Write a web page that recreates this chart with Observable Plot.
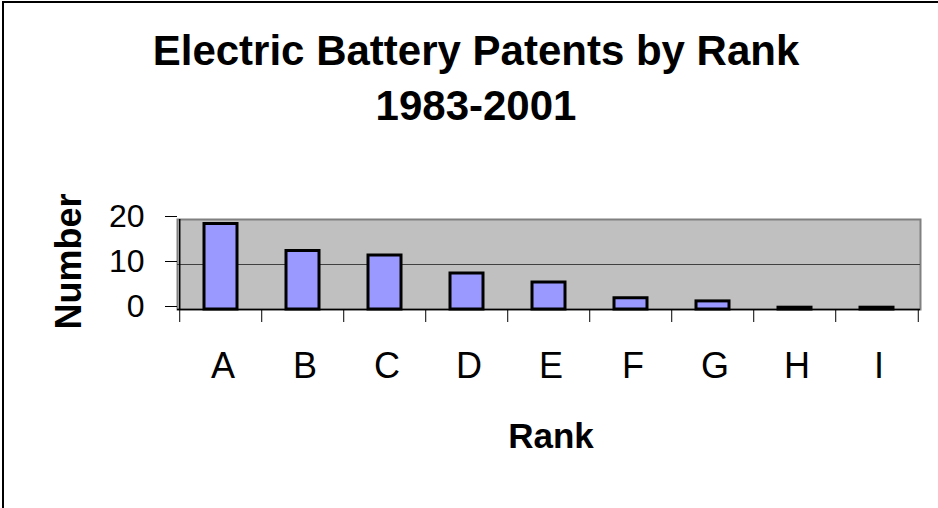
<!DOCTYPE html>
<html>
<head>
<meta charset="utf-8">
<script src="https://cdn.jsdelivr.net/npm/d3@7"></script>
<script src="https://cdn.jsdelivr.net/npm/@observablehq/plot@0.6"></script>
<style>
  html, body { margin: 0; padding: 0; background: #fff; }
  #wrap { position: relative; width: 938px; height: 508px; overflow: hidden; font-family: "Liberation Sans", Arial, sans-serif; }
  #border { position: absolute; left: 2px; top: 1px; width: 960px; height: 540px; border-left: 2px solid #000; border-top: 2px solid #000; box-sizing: border-box; pointer-events: none; }
  #title { position: absolute; left: 7px; top: 23px; width: 938px; text-align: center; font-size: 42px; font-weight: bold; line-height: 55px; color: #000; }
  #chart { position: absolute; left: 0; top: 0; }
</style>
</head>
<body>
<div id="wrap">
  <div id="chart"></div>
  <div id="title"></div>
  <div id="border"></div>
</div>
<script>
const titleLines = ["Electric Battery Patents by Rank", "1983-2001"];
const categories = ["A", "B", "C", "D", "E", "F", "G", "H", "I"];
const values = [19, 13, 12, 8, 6, 2.5, 1.8, 0.4, 0.4];
const yTicks = [0, 10, 20];
const xLabel = "Rank";
const yLabel = "Number";

const data = categories.map((c, i) => ({rank: c, value: values[i]}));

const W = 938, H = 508;
const mL = 177, mR = 18, mT = 219, mB = 199;
const step = (W - mL - mR) / categories.length;

document.getElementById("title").innerHTML = titleLines.map(t => `<div>${t}</div>`).join("");

const chart = Plot.plot({
  width: W,
  height: H,
  marginLeft: mL,
  marginRight: mR,
  marginTop: mT,
  marginBottom: mB,
  style: {fontFamily: "'Liberation Sans', Arial, sans-serif", background: "transparent", color: "#000", overflow: "visible"},
  x: {type: "band", domain: categories, paddingInner: 0.6, paddingOuter: 0.3, label: null},
  y: {domain: [0, 20], ticks: yTicks, label: null},
  marks: [
    Plot.frame({fill: "#c0c0c0", stroke: "#808080", strokeWidth: 2}),
    Plot.ruleY([10], {stroke: "#404040", strokeWidth: 1}),
    // left axis line
    Plot.ruleX([categories[0]], {dx: -step / 2, stroke: "#000", strokeWidth: 1.5}),
    // category boundary tick marks below the axis
    Plot.ruleX(categories, {dx: -step / 2, insetTop: 90, insetBottom: -13, stroke: "#000", strokeWidth: 1}),
    Plot.ruleX([categories[categories.length - 1]], {dx: step / 2, insetTop: 90, insetBottom: -13, stroke: "#000", strokeWidth: 1}),
    Plot.barY(data, {x: "rank", y: "value", fill: "#9999ff", stroke: "#000", strokeWidth: 3}),
    Plot.ruleY([0], {stroke: "#000", strokeWidth: 1.5}),
    Plot.axisY({ticks: yTicks, tickSize: 12, tickPadding: 21, fontSize: 32, label: null, dy: -3}),
    Plot.axisX({tickSize: 0, tickPadding: 43, fontSize: 36, label: null, dx: 2}),
    Plot.text([xLabel], {frameAnchor: "bottom", textAnchor: "middle", lineAnchor: "bottom", dy: 138, dx: 2, fontSize: 35, fontWeight: "bold", fill: "#000"}),
    Plot.text([yLabel], {frameAnchor: "left", textAnchor: "middle", lineAnchor: "bottom", rotate: -90, dx: -97, dy: -3, fontSize: 36, fontWeight: "bold", fill: "#000"})
  ]
});
document.getElementById("chart").appendChild(chart);
</script>
</body>
</html>
